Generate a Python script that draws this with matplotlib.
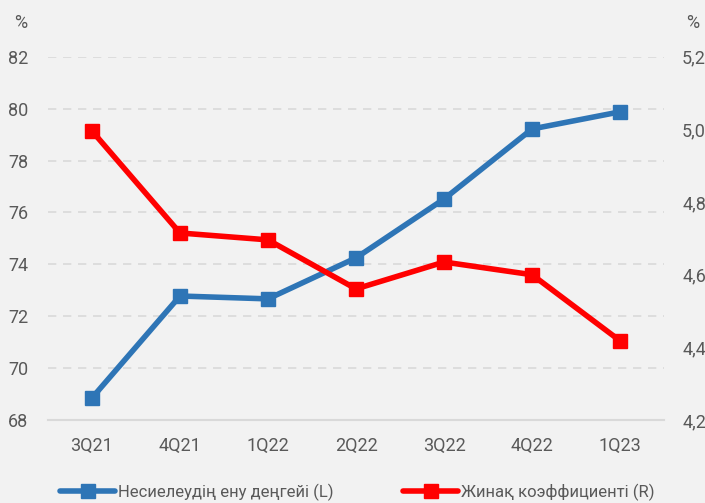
import matplotlib.pyplot as plt
from matplotlib.ticker import FuncFormatter

categories = ['3Q21', '4Q21', '1Q22', '2Q22', '3Q22', '4Q22', '1Q23']
lending = [68.85, 72.78, 72.67, 74.25, 76.52, 79.22, 79.88]
savings = [4.996, 4.715, 4.696, 4.561, 4.635, 4.600, 4.418]

left_ticks = [68, 70, 72, 74, 76, 78, 80, 82]
right_ticks = [4.2, 4.4, 4.6, 4.8, 5.0, 5.2]

bg = '#f2f2f2'
blue = '#2e75b6'
red = '#ff0000'
txt = '#595959'

plt.rcParams['font.family'] = ['Roboto', 'DejaVu Sans']

fig = plt.figure(figsize=(7.05, 5.03), dpi=100, facecolor=bg)
ax = fig.add_axes([0.068, 0.165, 0.874, 0.722], facecolor=bg)
ax2 = ax.twinx()

x = list(range(len(categories)))
ax.plot(x, lending, color=blue, lw=4, marker='s', ms=10.5, solid_capstyle='round',
        label='Несиелеудің ену деңгейі (L)', zorder=3)
ax2.plot(x, savings, color=red, lw=4, marker='s', ms=10.5, solid_capstyle='round',
         label='Жинақ коэффициенті (R)', zorder=3)

ax.set_xlim(-0.5, len(categories) - 0.5)
ax.set_ylim(68, 82)
ax2.set_ylim(4.2, 5.2)
ax.set_yticks(left_ticks)
ax2.set_yticks(right_ticks)
ax2.yaxis.set_major_formatter(FuncFormatter(lambda v, p: f'{v:.1f}'.replace('.', ',')))
ax.set_xticks(x)
ax.set_xticklabels(categories)

# dashed grid, solid base line
for v in left_ticks[1:]:
    ax.axhline(v, color='#d9d9d9', lw=1.2, ls=(0, (5, 4)), zorder=0)

for a in (ax, ax2):
    for s in a.spines.values():
        s.set_visible(False)
    a.tick_params(length=0, labelsize=13, labelcolor=txt)
ax.spines['bottom'].set_visible(True)
ax.spines['bottom'].set_color('#d9d9d9')
ax.spines['bottom'].set_linewidth(1.5)
ax.tick_params(axis='y', pad=14)
ax2.tick_params(axis='y', pad=13)
ax.tick_params(axis='x', pad=12)

fig.text(0.030, 0.955, '%', fontsize=13, color=txt, ha='center', va='center')
fig.text(0.982, 0.955, '%', fontsize=13, color=txt, ha='center', va='center')

h1, l1 = ax.get_legend_handles_labels()
h2, l2 = ax2.get_legend_handles_labels()
fig.legend(h1 + h2, l1 + l2, loc='lower center', bbox_to_anchor=(0.507, -0.025), ncol=2,
           frameon=False, fontsize=12, labelcolor=txt, handlelength=3.3,
           handletextpad=0.15, columnspacing=4.2)

plt.savefig('out.png', dpi=100, facecolor=bg)
